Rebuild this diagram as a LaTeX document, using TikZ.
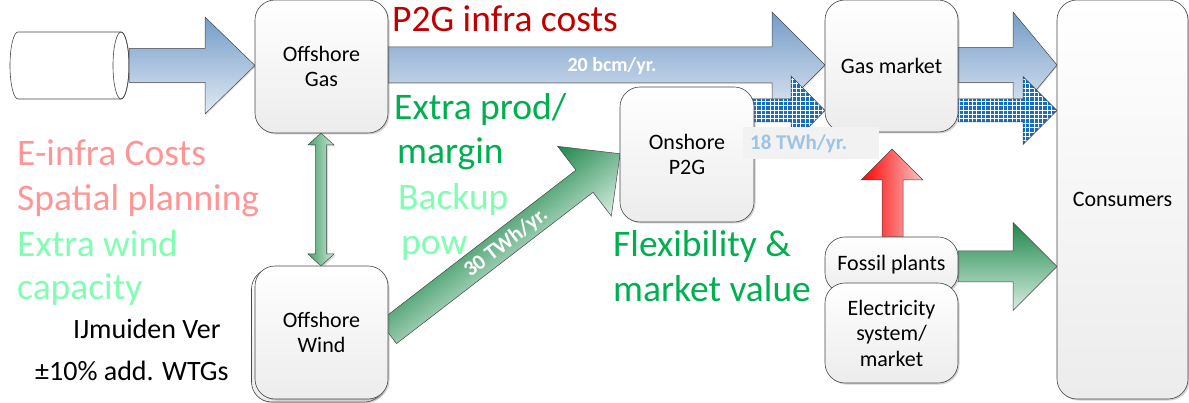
\documentclass[tikz,border=0pt]{standalone}
\usepackage{fontspec}
\setmainfont{Carlito}
\usetikzlibrary{shadows,calc}
\definecolor{boxline}{RGB}{70,70,70}
\definecolor{boxbot}{RGB}{236,236,236}
\definecolor{bluetop}{RGB}{116,156,200}
\definecolor{bluebot}{RGB}{226,234,244}
\definecolor{chkblue}{RGB}{20,110,200}
\definecolor{gtop}{RGB}{30,135,75}
\definecolor{gbot}{RGB}{215,238,225}
\definecolor{vleft}{RGB}{75,160,110}
\definecolor{vright}{RGB}{200,232,212}
\definecolor{redl}{RGB}{255,0,0}
\definecolor{redr}{RGB}{248,200,200}
\definecolor{darkred}{RGB}{192,0,0}
\definecolor{mygreen}{RGB}{0,176,80}
\definecolor{mint}{RGB}{128,255,178}
\definecolor{pinkish}{RGB}{255,150,150}
\definecolor{lblue}{RGB}{157,195,230}
\definecolor{lgray}{RGB}{242,242,242}
\newcommand\harrowpath[6]{(#1,#4-#5) -- (#2,#4-#5) -- (#2,#4-#6) -- (#3,#4) -- (#2,#4+#6) -- (#2,#4+#5) -- (#1,#4+#5) -- cycle}
\tikzset{
  box/.style={draw=boxline, line width=0.6pt, rounded corners=20pt,
    top color=white, bottom color=boxbot,
    drop shadow={shadow xshift=1.5pt, shadow yshift=-1.5pt, opacity=0.3, fill=black!60},
    align=center, inner sep=0pt, font=\fontsize{22}{25.5}\selectfont},
  arrowline/.style={draw=boxline, line width=0.5pt},
  bluearrow/.style={arrowline, top color=bluetop, bottom color=bluebot},
  bigtext/.style={anchor=base west, inner sep=0pt, font=\fontsize{37.5}{44}\selectfont},
  midtext/.style={anchor=base west, inner sep=0pt, font=\fontsize{28}{32}\selectfont},
  flowlabel/.style={inner sep=0pt, text=white, font=\bfseries\fontsize{20}{24}\selectfont}
}
\begin{document}
\begin{tikzpicture}[x=1pt,y=-1pt]
\useasboundingbox (0,0) rectangle (1189,403);

% cylinder (gas source)
\draw[boxline, line width=0.6pt, fill=white] (18,32) -- (121,32)
  arc[start angle=-90, end angle=90, x radius=8, y radius=33.5] -- (18,99)
  arc[start angle=90, end angle=270, x radius=8, y radius=33.5] -- cycle;
\draw[boxline, line width=0.6pt] (121,65.5) ellipse [x radius=8, y radius=33.5];
\coordinate (cyl) at (129,65);

% texts behind arrows
\node[bigtext, text=darkred] (t1) at (392,32) {P2G infra costs};
\node[bigtext, text=mygreen] (t2) at (394,120) {Extra prod/};
\node[bigtext, text=mygreen] (t3) at (397,164) {margin};
\node[bigtext, text=mint] (t4) at (398,210) {Backup};
\node[bigtext, text=mint] (t5) at (401,255) {pow};
\node[bigtext, text=mygreen] (t6) at (613,257) {Flexibility \&};
\node[bigtext, text=mygreen] (t7) at (613,302) {market value};
\node[bigtext, text=pinkish] (t8) at (17,166) {E-infra Costs};
\node[bigtext, text=pinkish] (t9) at (17,211) {Spatial planning};
\node[bigtext, text=mint] (t10) at (17,257) {Extra wind};
\node[bigtext, text=mint] (t11) at (17,300) {capacity};
\node[midtext] (t12) at (73,339) {IJmuiden Ver};
\node[midtext] (t13) at (35,381) {±10\% add. WTGs};

% blue arrows
\path[bluearrow, drop shadow={shadow xshift=1pt, shadow yshift=-1pt, opacity=0.25}] \harrowpath{129}{205}{255}{65.5}{17}{48.5};
\path[bluearrow, drop shadow={shadow xshift=1pt, shadow yshift=-1pt, opacity=0.25}] \harrowpath{388}{772}{825}{65}{18}{53};
\path[bluearrow, drop shadow={shadow xshift=1pt, shadow yshift=-1pt, opacity=0.25}] \harrowpath{958}{1013}{1057}{65}{17.5}{53};

% checkered arrows
\begin{scope}
  \clip \harrowpath{752}{791}{825}{110.5}{11.5}{34.5};
  \fill[chkblue] (740,70) rectangle (830,150);
  \draw[white, line width=0.9pt] (740.5,70.5) grid[step=4.4pt] (830,150);
\end{scope}
\path[arrowline] \harrowpath{752}{791}{825}{110.5}{11.5}{34.5};
\begin{scope}
  \clip \harrowpath{958}{1023}{1057}{110.5}{11.5}{34};
  \fill[chkblue] (950,70) rectangle (1060,150);
  \draw[white, line width=0.9pt] (950.5,70.5) grid[step=4.4pt] (1060,150);
\end{scope}
\path[arrowline] \harrowpath{958}{1023}{1057}{110.5}{11.5}{34};

% green arrow to consumers
\path[arrowline, top color=gtop, bottom color=gbot] \harrowpath{958}{1013}{1057}{266.5}{15.5}{44};

% red arrow up
\path[arrowline, left color=redl, right color=redr]
  (882,237) -- (882,180) -- (861,180) -- (892,149) -- (923,180) -- (903,180) -- (903,237) -- cycle;

% double vertical arrow
\path[arrowline, left color=vleft, right color=vright, drop shadow={shadow xshift=1.5pt, shadow yshift=-1.5pt, opacity=0.3}]
  (321,133) -- (334,145) -- (326.5,145) -- (326.5,254) -- (334,254) -- (321,266) -- (308,254) -- (315.5,254) -- (315.5,145) -- (308,145) -- cycle;

% diagonal arrow offshore wind -> onshore P2G (drawn in its own rotated frame)
\begin{scope}[transform canvas={shift={(388,332.5)}, rotate=37.6}]
  \path[arrowline, top color=gtop, bottom color=gbot] \harrowpath{0}{248}{293}{0}{14}{44};
\end{scope}

% boxes
\node[box, minimum width=133pt, minimum height=133pt] (og) at (321.5,66.5) {Offshore\\Gas};
\node[box, minimum width=133pt, minimum height=132pt] (gm) at (891.5,66) {Gas market};
\node[box, minimum width=131pt, minimum height=399pt] (cons) at (1122.5,199.5) {Consumers};
\node[box, minimum width=134pt, minimum height=135pt] (p2g) at (687,154.5) {Onshore\\P2G};
\node[box, minimum width=133pt, minimum height=133pt] (owb) at (318,335.5) {};
\node[box, minimum width=133pt, minimum height=133pt] (ow) at (321.5,332.5) {Offshore\\Wind};
\node[box, minimum width=133pt, minimum height=56pt] (fp) at (891.5,265) {Fossil plants};
\node[box, minimum width=133pt, minimum height=100pt] (el) at (891.5,333) {Electricity\\system/\\market};

% flow labels
\node[flowlabel] (l1) at (612,66) {20 bcm/yr.};
\node[flowlabel, rotate=37.6, font=\bfseries\fontsize{21.5}{24}\selectfont] (l2) at (506,243) {30 TWh/yr.};
\fill[lgray] (743,127) rectangle (879,159);
\node[flowlabel, text=lblue, anchor=west, font=\bfseries\fontsize{21}{24}\selectfont] (l3) at (750,144) {18 TWh/yr.};
\end{tikzpicture}
\end{document}
